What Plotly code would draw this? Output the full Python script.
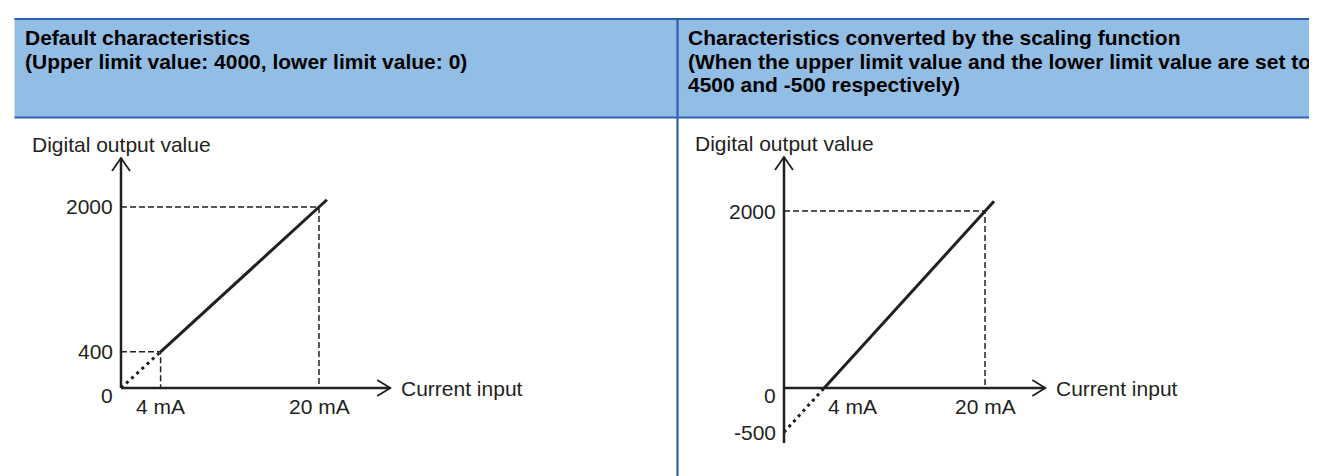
import plotly.graph_objects as go

W, H = 1317, 476
INK = "#231F20"
FONT = "Liberation Sans, Arial, sans-serif"

# ______________________________________________________________________________
# DATA
# ______________________________________________________________________________

left_header = ["Default characteristics",
               "(Upper limit value: 4000, lower limit value: 0)"]
right_header = ["Characteristics converted by the scaling function",
                "(When the upper limit value and the lower limit value are set to",
                "4500 and -500 respectively)"]

y_title = "Digital output value"
x_title = "Current input"

# default characteristics (mA -> digital value)
left_solid_x = [4, 20.8]
left_solid_y = [400, 2080]
left_dot_x = [0, 4]
left_dot_y = [0, 400]
left_guide_x = [4, 20]
left_guide_y = [400, 2000]
left_xticks = [4, 20]
left_xtext = ["4 mA", "20 mA"]
left_yticks = [2000, 400, 0]
left_ytext = ["2000", "400", "0"]

# scaled characteristics
right_solid_x = [4, 20.9]
right_solid_y = [0, 2110]
right_dot_x = [0, 4]
right_dot_y = [-500, 0]
right_guide_x = [20]
right_guide_y = [2000]
right_xticks = [4, 20]
right_xtext = ["4 mA", "20 mA"]
right_yticks = [2000, 0, -500]
right_ytext = ["2000", "0", "-500"]

# ______________________________________________________________________________
# LAYOUT HELPERS (pixel placement of the two sketches)
# ______________________________________________________________________________

def px(p):
    return p / W


def py(p):
    return 1 - p / H


# origin pixel, px per mA, px per digit, axis ranges, arrow ends
panels = [
    dict(xa="x", ya="y", ox=113, oy=380, sx=9.9, sy=0.0905,
         xr=[-1.5, 28.5], yr=[-250, 2650], xend=27.2, ystart=0, yend=2541),
    dict(xa="x2", ya="y2", ox=776, oy=380, sx=10.05, sy=0.0885,
         xr=[-1.5, 27.5], yr=[-750, 2750], xend=26.0, ystart=-620, yend=2610),
]

fig = go.Figure()

series = [
    (left_solid_x, left_solid_y, left_dot_x, left_dot_y, left_guide_x, left_guide_y),
    (right_solid_x, right_solid_y, right_dot_x, right_dot_y, right_guide_x, right_guide_y),
]

for p, (sx_, sy_, dx_, dy_, gx_, gy_) in zip(panels, series):
    # dashed guides to the axes
    for gx, gy in zip(gx_, gy_):
        fig.add_trace(go.Scatter(x=[0, gx, gx], y=[gy, gy, 0], mode="lines",
                                 line=dict(color=INK, width=1.5, dash="6px,3px"),
                                 xaxis=p["xa"], yaxis=p["ya"], hoverinfo="skip"))
    fig.add_trace(go.Scatter(x=dx_, y=dy_, mode="lines",
                             line=dict(color=INK, width=3, dash="3px,4px"),
                             xaxis=p["xa"], yaxis=p["ya"], hoverinfo="skip"))
    fig.add_trace(go.Scatter(x=sx_, y=sy_, mode="lines",
                             line=dict(color=INK, width=3),
                             xaxis=p["xa"], yaxis=p["ya"], hoverinfo="skip"))

shapes = []
annotations = []

# table header
shapes.append(dict(type="rect", xref="paper", yref="paper", x0=px(6.5), x1=1.0,
                   y0=py(110), y1=py(10), fillcolor="#92BDE4", line_width=0, layer="below"))
for yy in (11, 109.5):
    shapes.append(dict(type="line", xref="paper", yref="paper", x0=px(6.5), x1=1.0,
                       y0=py(yy), y1=py(yy), line=dict(color="#2C61B3", width=2.2)))
shapes.append(dict(type="line", xref="paper", yref="paper", x0=px(669.5), x1=px(669.5),
                   y0=py(10), y1=0, line=dict(color="#2C61B3", width=2.2)))

for texts, x0 in ((left_header, 15), (right_header, 678)):
    for i, t in enumerate(texts):
        annotations.append(dict(text=t, xref="paper", yref="paper", x=px(x0), y=py(29 + 24 * i),
                                xanchor="left", yanchor="middle", showarrow=False,
                                font=dict(family=FONT, size=21, color="black", weight="bold")))

tick_sets = [
    (left_xticks, left_xtext, left_yticks, left_ytext),
    (right_xticks, right_xtext, right_yticks, right_ytext),
]

for k, (p, (xt, xtt, yt, ytt)) in enumerate(zip(panels, tick_sets)):
    ax = dict(domain=[px(p["ox"] + p["xr"][0] * p["sx"]), px(p["ox"] + p["xr"][1] * p["sx"])],
              range=p["xr"], visible=False, fixedrange=True)
    ay = dict(domain=[py(p["oy"] - p["yr"][0] * p["sy"]), py(p["oy"] - p["yr"][1] * p["sy"])],
              range=p["yr"], visible=False, fixedrange=True, anchor=p["xa"])
    ax["anchor"] = p["ya"]
    suffix = "" if k == 0 else "2"
    fig.update_layout(**{"xaxis" + suffix: ax, "yaxis" + suffix: ay})

    line = dict(color=INK, width=2.5)
    shapes.append(dict(type="line", xref=p["xa"], yref=p["ya"], x0=0, x1=p["xend"], y0=0, y1=0, line=line))
    shapes.append(dict(type="line", xref=p["xa"], yref=p["ya"], x0=0, x1=0,
                       y0=p["ystart"], y1=p["yend"], line=line))
    # open arrow heads
    head = dict(color=INK, width=1.8)
    shapes.append(dict(type="path", xref=p["xa"], yref=p["ya"], xsizemode="pixel", ysizemode="pixel",
                       xanchor=p["xend"], yanchor=0, path="M-13,-8 L0,0 L-13,8",
                       line=head, fillcolor="rgba(0,0,0,0)"))
    shapes.append(dict(type="path", xref=p["xa"], yref=p["ya"], xsizemode="pixel", ysizemode="pixel",
                       xanchor=0, yanchor=p["yend"], path="M-9,-13 L0,0 L9,-13",
                       line=head, fillcolor="rgba(0,0,0,0)"))

    tfont = dict(family=FONT, size=21, color=INK)
    annotations.append(dict(text=y_title, xref=p["xa"], yref=p["ya"], x=0, y=p["yend"],
                            xanchor="left", yanchor="middle", xshift=-91, yshift=14,
                            showarrow=False, font=tfont))
    annotations.append(dict(text=x_title, xref=p["xa"], yref=p["ya"], x=p["xend"], y=0,
                            xanchor="left", yanchor="middle", xshift=9, showarrow=False, font=tfont))
    for v, t in zip(yt, ytt):
        annotations.append(dict(text=t, xref=p["xa"], yref=p["ya"], x=0, y=v,
                                xanchor="right", yanchor="middle", xshift=-6,
                                yshift=-7 if v == 0 else 0, showarrow=False, font=tfont))
    for v, t in zip(xt, xtt):
        left_aligned = (k == 1 and v == xt[0])
        annotations.append(dict(text=t, xref=p["xa"], yref=p["ya"], x=v, y=0,
                                xanchor="left" if left_aligned else "center", yanchor="middle",
                                yshift=-18, xshift=2 if left_aligned else 0,
                                showarrow=False, font=tfont))

fig.update_layout(
    width=W, height=H,
    margin=dict(l=0, r=0, t=0, b=0),
    paper_bgcolor="white", plot_bgcolor="rgba(0,0,0,0)",
    showlegend=False,
    shapes=shapes,
    annotations=annotations,
)

fig.write_html("out.html", config={"displayModeBar": False})
